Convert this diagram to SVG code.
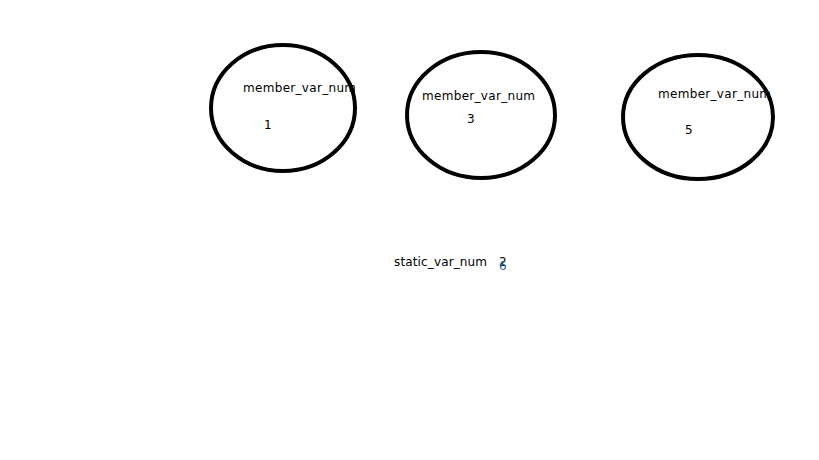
<svg xmlns="http://www.w3.org/2000/svg" width="819" height="460" viewBox="0 0 819 460">
<style>
.obj{fill:none;stroke:#000;stroke-width:4}
.t{font-family:"DejaVu Sans",sans-serif;font-size:12px;fill:#000}
</style>
<defs>
<clipPath id="c1"><rect x="200" y="70" width="155" height="30"/></clipPath>
<clipPath id="c3"><rect x="615" y="80" width="156" height="30"/></clipPath>
</defs>
<rect width="819" height="460" fill="#fff"/>
<g id="obj1">
<ellipse class="obj" cx="283" cy="108" rx="72" ry="63"/>
<text class="t" x="243" y="92" textLength="113" clip-path="url(#c1)">member_var_num</text>
<text class="t" x="264" y="129">1</text>
</g>
<g id="obj2">
<ellipse class="obj" cx="481" cy="115" rx="74" ry="63"/>
<text class="t" x="422" y="100" textLength="113">member_var_num</text>
<text class="t" x="467" y="123">3</text>
</g>
<g id="obj3">
<ellipse class="obj" cx="698" cy="117" rx="75" ry="62"/>
<text class="t" x="658" y="98" textLength="113" clip-path="url(#c3)">member_var_num</text>
<text class="t" x="685" y="134">5</text>
</g>
<g id="static">
<text class="t" x="394" y="266" textLength="93">static_var_num</text>
<text class="t" x="499" y="266">2</text>
<text class="t" x="499" y="270" fill="#1f5fa0" style="fill:#1f5fa0">6</text>
</g>
<g id="connectors"/>
</svg>
